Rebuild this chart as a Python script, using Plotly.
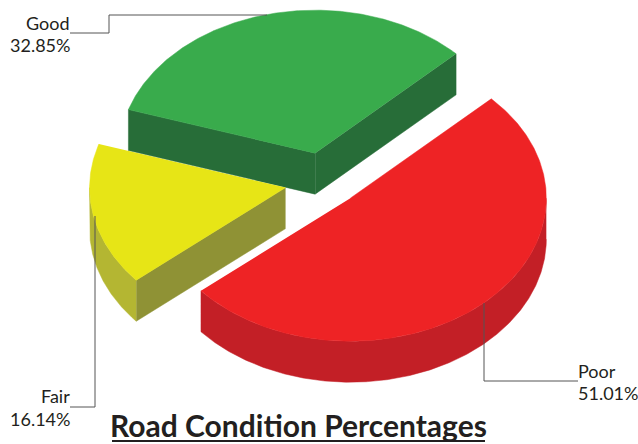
import numpy as np
import plotly.graph_objects as go

categories = ["Poor", "Fair", "Good"]
values = [51.01, 16.14, 32.85]
value_labels = ["51.01%", "16.14%", "32.85%"]
title_text = "Road Condition Percentages"

W, H = 638, 444
CX, CY, RX, RY = 324, 181, 196, 143
DEPTH = 41
PULL = 0.2
NUDGE_Y = [-4, 1, 0]
START = 46.0

top_col = ["#EE2325", "#E7E516", "#39AB4C"]
wall_col = ["#C31F26", "#B4B632", "#276D38"]
cut_col = ["#C31F26", "#8F9235", "#276D38"]
LINE = "#555555"
INK = "#231F20"
FONT = "Lato"


def pt(a, c, r=1.0, dz=0.0):
    t = np.radians(a)
    return c[0] + r * RX * np.sin(t), c[1] - r * RY * np.cos(t) + dz


def arc(a0, a1, c, dz=0.0):
    a = np.linspace(a0, a1, max(int(abs(a1 - a0) * 2), 2))
    t = np.radians(a)
    return c[0] + RX * np.sin(t), c[1] - RY * np.cos(t) + dz


def poly(fig, x, y, col):
    fig.add_trace(go.Scatter(x=list(x), y=list(y), mode="lines", fill="toself",
                             fillcolor=col, line=dict(color=col, width=0.5),
                             hoverinfo="skip", showlegend=False))


fig = go.Figure()
spans, a = [], START
for v in values:
    spans.append((a, a + v * 3.6))
    a += v * 3.6

order = [2, 1, 0]  # back to front
for i in order:
    a0, a1 = spans[i]
    mid = (a0 + a1) / 2
    c = pt(mid, (CX, CY + NUDGE_Y[i]), PULL)
    for edge in (a0, a1):
        visible = (i == 2) or (i == 1 and edge == a0)
        if visible:
            px, py = pt(edge, c)
            poly(fig, [c[0], px, px, c[0]], [c[1], py, py + DEPTH, c[1] + DEPTH], cut_col[i])
    w0 = max(a0, 90)
    w1 = min(a1, 270)
    if w1 > w0:
        xt, yt = arc(w0, w1, c)
        xb, yb = arc(w1, w0, c, DEPTH)
        poly(fig, np.r_[xt, xb], np.r_[yt, yb], wall_col[i])
    xt, yt = arc(a0, a1, c)
    poly(fig, np.r_[c[0], xt], np.r_[c[1], yt], top_col[i])

leaders = [
    ([484, 484, 578], [303, 381, 381]),
    ([95, 95, 70], [216, 407, 407]),
    ([267, 109, 109, 70], [15, 15, 33, 33]),
]
for lx, ly in leaders:
    fig.add_trace(go.Scatter(x=lx, y=ly, mode="lines", line=dict(color=LINE, width=1),
                             hoverinfo="skip", showlegend=False))

label_pos = [(578, 371, "left"), (70, 396, "right"), (70, 23, "right")]
pct_pos = [(578, 393, "left"), (70, 419, "right"), (70, 45, "right")]
annos = []
for i in range(3):
    annos.append(dict(x=label_pos[i][0], y=label_pos[i][1], text=categories[i],
                      xanchor=label_pos[i][2], yanchor="middle", showarrow=False, xshift=-2 if i == 0 else 2,
                      font=dict(family=FONT, size=18, color=INK)))
    annos.append(dict(x=pct_pos[i][0], y=pct_pos[i][1], text=value_labels[i],
                      xanchor=pct_pos[i][2], yanchor="middle", showarrow=False, xshift=-2 if i == 0 else 2,
                      font=dict(family=FONT, size=18, color=INK)))
annos.append(dict(x=298.5, y=425, text="<b>" + title_text + "</b>", xanchor="center", yanchor="middle",
                  showarrow=False, font=dict(family=FONT, size=30, color=INK)))

fig.add_trace(go.Scatter(x=[112, 485], y=[441, 441], mode="lines", line=dict(color=INK, width=2),
                         hoverinfo="skip", showlegend=False))

fig.update_layout(width=W, height=H, margin=dict(l=0, r=0, t=0, b=0),
                  paper_bgcolor="white", plot_bgcolor="white", annotations=annos,
                  xaxis=dict(range=[0, W], visible=False, fixedrange=True),
                  yaxis=dict(range=[H, 0], visible=False, fixedrange=True))
fig.write_html("out.html", config=dict(displayModeBar=False),
               post_script="document.body.style.margin='0';document.body.style.overflow='hidden';")
